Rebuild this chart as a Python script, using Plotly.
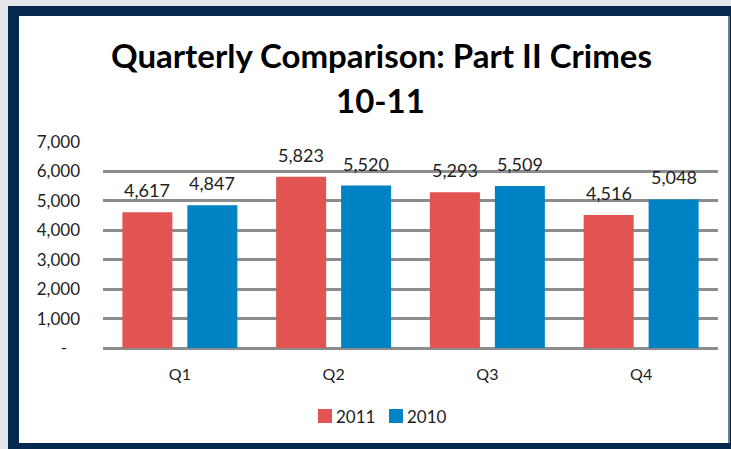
import plotly.graph_objects as go

quarters = ["Q1", "Q2", "Q3", "Q4"]
crimes_2011 = [4617, 5823, 5293, 4516]
crimes_2010 = [4847, 5520, 5509, 5048]
series_names = ["2011", "2010"]
y_ticks = [0, 1000, 2000, 3000, 4000, 5000, 6000, 7000]
y_tick_labels = ["-\u00a0\u00a0\u00a0", "1,000", "2,000", "3,000", "4,000", "5,000", "6,000", "7,000"]

RED = "#E15452"
BLUE = "#0083C5"
TEXT = "#1E1E1E"
FONT = "Lato"
W, H = 731, 449
L, R, T, B = 103, 13, 142, 101
BARGAP = 0.155
GROUPGAP = 0.23

series = [(series_names[0], crimes_2011, RED), (series_names[1], crimes_2010, BLUE)]

fig = go.Figure()
for name, vals, col in series:
    fig.add_trace(go.Bar(name=name, x=quarters, y=vals,
                         marker=dict(color=col, line=dict(width=0))))


def px_x(p):
    return (p - L) / (W - L - R)


def px_y(p):
    return (H - B - p) / (H - T - B)


# horizontal offset of each bar centre from its category centre, in pixels
cat_px = (W - L - R) / len(quarters)
slot_px = cat_px * (1 - BARGAP) / 2
offsets = [-slot_px / 2, slot_px / 2]

annotations = [
    dict(text="<b>Quarterly Comparison: Part II Crimes</b>", xref="paper", yref="paper",
         x=px_x(381), y=px_y(55), showarrow=False, xanchor="center", yanchor="middle",
         font=dict(family=FONT, size=33, color="black")),
    dict(text="<b>10-11</b>", xref="paper", yref="paper",
         x=px_x(380), y=px_y(100), showarrow=False, xanchor="center", yanchor="middle",
         font=dict(family=FONT, size=33, color="black")),
]

# value labels above each bar
for (name, vals, col), dx in zip(series, offsets):
    for q, v in zip(quarters, vals):
        annotations.append(dict(text=f"{v:,}", x=q, y=v, xref="x", yref="y",
                                showarrow=False, xanchor="center", yanchor="bottom",
                                xshift=dx, yshift=9,
                                font=dict(family=FONT, size=18, color=TEXT)))

shapes = [
    # page background strip and navy frame
    dict(type="rect", xref="paper", yref="paper", x0=px_x(0), x1=px_x(W), y0=px_y(H), y1=px_y(0),
         fillcolor="#E6E7EB", line=dict(width=0), layer="below"),
    dict(type="rect", xref="paper", yref="paper", x0=px_x(8), x1=px_x(W), y0=px_y(H), y1=px_y(6),
         fillcolor="#06284F", line=dict(width=0), layer="below"),
    dict(type="rect", xref="paper", yref="paper", x0=px_x(19), x1=px_x(728), y0=px_y(443), y1=px_y(16),
         fillcolor="white", line=dict(width=0), layer="below"),
    dict(type="line", xref="paper", yref="paper", x0=px_x(729), x1=px_x(729), y0=px_y(443), y1=px_y(16),
         line=dict(color="#6B7A99", width=2), layer="below"),
]

# legend: colour square followed closely by the series name
legend_x = [318, 389]
for (name, vals, col), lx in zip(series, legend_x):
    shapes.append(dict(type="rect", xref="paper", yref="paper",
                       x0=px_x(lx), x1=px_x(lx + 14), y0=px_y(423), y1=px_y(409),
                       fillcolor=col, line=dict(width=0)))
    annotations.append(dict(text=name, xref="paper", yref="paper", x=px_x(lx + 16), y=px_y(416),
                            showarrow=False, xanchor="left", yanchor="middle",
                            font=dict(family=FONT, size=17, color=TEXT)))

fig.update_layout(
    width=W, height=H, margin=dict(l=L, r=R, t=T, b=B),
    paper_bgcolor="white", plot_bgcolor="rgba(0,0,0,0)",
    barmode="group", bargap=BARGAP, bargroupgap=GROUPGAP,
    shapes=shapes, annotations=annotations,
    showlegend=False,
    font=dict(family=FONT, size=16, color=TEXT),
)
fig.update_xaxes(showgrid=False, showline=False, ticks="", ticklabelstandoff=15,
                 tickfont=dict(family=FONT, size=16, color=TEXT))
fig.update_yaxes(range=[0, 7000], tickvals=y_ticks, ticktext=y_tick_labels,
                 showgrid=True, gridcolor="#8A8C8E", gridwidth=2.5,
                 zeroline=True, zerolinecolor="#8A8C8E", zerolinewidth=3,
                 showline=False, ticks="", ticklabelstandoff=22,
                 tickfont=dict(family=FONT, size=17, color=TEXT))

fig.write_html("out.html")
